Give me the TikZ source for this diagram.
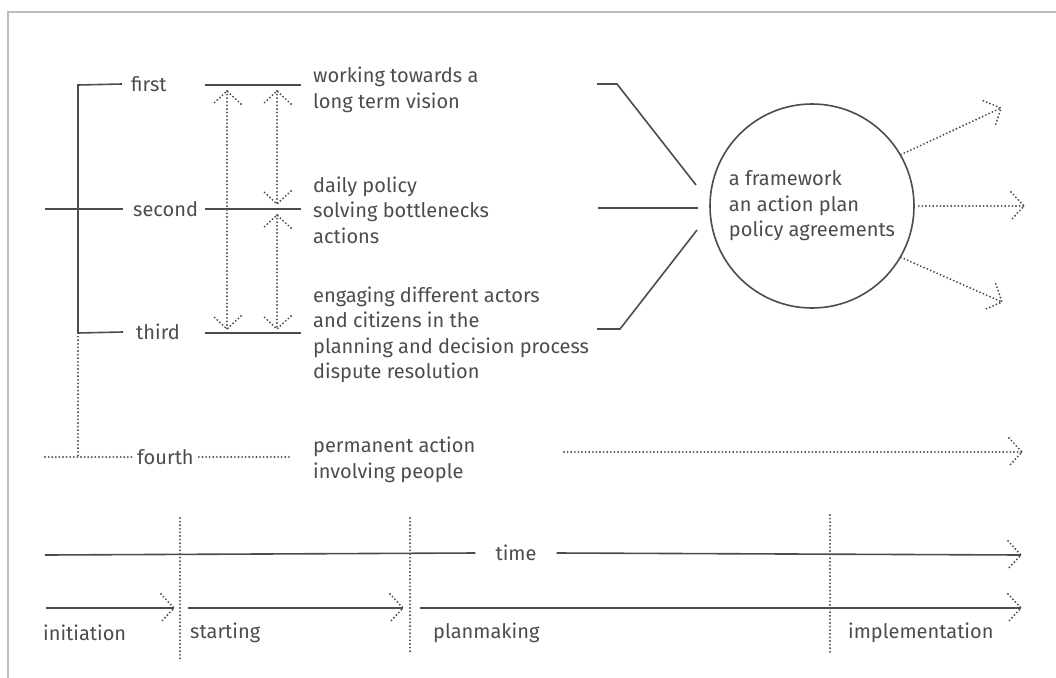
\documentclass[tikz,border=0pt]{standalone}
\usepackage{fontspec}
\setmainfont{Fira Sans}
\usetikzlibrary{calc}
\usetikzlibrary{positioning}
\usetikzlibrary{decorations.markings}

\definecolor{ink}{HTML}{4C4C4C}
\definecolor{edge}{HTML}{BDBDBD}

\begin{document}
\begin{tikzpicture}[x=1pt, y=-1pt,
        ln/.style={draw=ink, line width=1.6pt},
        dots/.style={draw=ink, line width=2.1pt, line cap=round, dash pattern=on 0pt off 3.6pt},
        chev/.style={dots},
        tipend/.style={postaction={decorate, decoration={markings,
            mark=at position 1 with {\draw[chev] (-13pt,14pt) -- (0pt,0pt) -- (-13pt,-14pt);}}}},
        tipstart/.style={postaction={decorate, decoration={markings,
            mark=at position 0 with {\draw[chev] (13pt,14pt) -- (0pt,0pt) -- (13pt,-14pt);}}}},
        lbl/.style={text=ink, font=\fontsize{20}{25.5}\selectfont, inner sep=0pt},
        txt/.style={lbl, align=left, anchor=west}]
    \useasboundingbox (0,0) rectangle (1056,677);
    \clip (0,0) rectangle (1056,677);
    \draw[edge, line width=2pt] (8,700) |- (1100,12);

    % the four steps
    \node[lbl, anchor=west] (first)  at (131,84)  {first};
    \node[lbl, anchor=west] (second) at (133,209) {second};
    \node[lbl, anchor=west] (third)  at (136,332) {third};
    \node[lbl, anchor=west] (fourth) at (137,457) {fourth};

    % bracket on the left
    \coordinate (s1) at (78,85);
    \coordinate (s3) at (78,333);
    \coordinate (s4) at (78,457);
    \coordinate (in2) at (45,209);
    \coordinate (in4) at (45,457);
    \draw[ln] ([xshift=-9pt]first.west) -- (s1) -- (s3) -- ([xshift=-13pt]third.west);
    \draw[ln] (in2) -- ([xshift=-10pt]second.west);
    \draw[dots] (s3) -- (s4);
    \draw[dots] (in4) -- ([xshift=-5pt]fourth.west);
    \draw[dots] ([xshift=5pt]fourth.east) -- (291,457);

    % rails between the steps
    \foreach \y [count=\i] in {85,209,333}
    {
        \coordinate (ra\i) at (205,\y);
        \coordinate (rb\i) at (301,\y);
        \draw[ln] (ra\i) -- (rb\i);
    }
    \coordinate (u1) at (227,91);
    \coordinate (u3) at (227,329);
    \coordinate (v1) at (277,91);
    \coordinate (v2) at (277,204);
    \coordinate (w2) at (277,215);
    \coordinate (w3) at (277,329);
    \draw[dots, tipstart, tipend] (u1) -- (u3);
    \draw[dots, tipstart, tipend] (v1) -- (v2);
    \draw[dots, tipstart, tipend] (w2) -- (w3);

    % what each step is about
    \node[txt] (vision) at (313,90) {working towards a\\long term vision};
    \node[txt] (daily) at (313,210) {daily policy\\solving bottlenecks\\actions};
    \node[txt] (actors) at (313,335) {engaging different actors\\and citizens in the\\planning and decision process\\dispute resolution};
    \node[txt] (people) at (313,460) {permanent action\\involving people};

    % the outcome
    \node[lbl, circle, draw=ink, line width=1.6pt, minimum size=204pt, align=left] (plan) at (812,206)
        {a framework\\an action plan\\policy agreements};
    \coordinate (a1) at (597,84);
    \coordinate (b1) at (617,84);
    \coordinate (c1) at (696,185);
    \coordinate (a2) at (598,208);
    \coordinate (c2) at (698,208);
    \coordinate (a3) at (597,329);
    \coordinate (b3) at (620,329);
    \coordinate (c3) at (697,230);
    \draw[ln] (a1) -- (b1) -- (c1);
    \draw[ln] (a2) -- (c2);
    \draw[ln] (a3) -- (b3) -- (c3);

    \coordinate (o1) at (1001,108);
    \coordinate (o2) at (1024,206);
    \coordinate (o3) at (1002,302);
    \draw[dots, tipend] (plan.30) -- (o1);
    \draw[dots, tipend] (plan.east) ++(4pt,0) -- (o2);
    \draw[dots, tipend] (plan.-30) -- (o3);

    \coordinate (p1) at (564,452);
    \coordinate (p2) at (1022,452);
    \draw[dots, tipend] (p1) -- (p2);

    % time axis and phases
    \node[lbl] (time) at (516,553) {time};
    \coordinate (t0) at (45,555);
    \coordinate (t1) at (1021,555);
    \draw[ln] (t0) -- ([xshift=-20pt]time.west);
    \draw[ln, tipend] ([xshift=20pt]time.east) -- (t1);

    \coordinate (q0) at (46,608);
    \coordinate (q1) at (174,608);
    \coordinate (q2) at (188,608);
    \coordinate (q3) at (403,608);
    \coordinate (q4) at (420,608);
    \coordinate (q5) at (1021,608);
    \draw[ln, tipend] (q0) -- (q1);
    \draw[ln, tipend] (q2) -- (q3);
    \draw[ln, tipend] (q4) -- (q5);

    \foreach \x/\a/\b in {180/518/662, 410/518/652, 830/515/652}
        \draw[dots] (\x,\a) -- (\x,\b);

    \node[lbl, anchor=west] (init)  at (43,633)  {initiation};
    \node[lbl, anchor=west] (start) at (190,633) {starting};
    \node[lbl, anchor=west] (pmake) at (433,633) {planmaking};
    \node[lbl, anchor=west] (impl)  at (848,633) {implementation};
\end{tikzpicture}
\end{document}
